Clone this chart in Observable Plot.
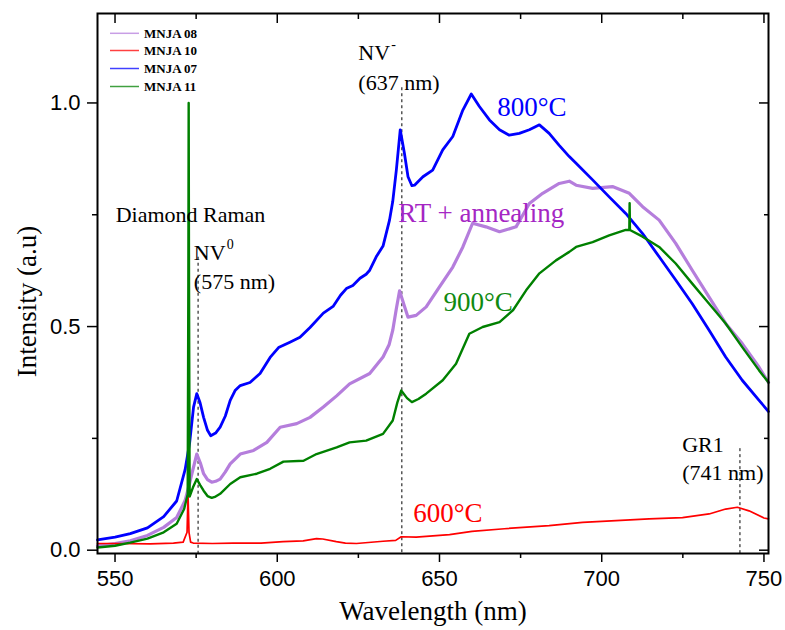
<!DOCTYPE html>
<html><head><meta charset="utf-8">
<script src="https://cdn.jsdelivr.net/npm/d3@7"></script>
<script src="https://cdn.jsdelivr.net/npm/@observablehq/plot@0.6"></script>
<style>
body{margin:0;background:#fff;}
#chart{width:785px;height:630px;}
</style></head><body><div id="chart"></div>
<script>
// ---- data: [wavelength nm, intensity a.u.] ----
const seriesNames = ["MNJA 08", "MNJA 10", "MNJA 07", "MNJA 11"];
const seriesColors = ["#b57edc", "#ff0000", "#0000ff", "#008000"];

const mnja08 = [[544.6,0.01],[550,0.015],[554.7,0.021],[560,0.033],[565,0.051],[569,0.073],[571.6,0.111],[573,0.15],[573.7,0.171],[575.2,0.215],[576.3,0.195],[577.3,0.171],[578.5,0.158],[579.8,0.152],[581,0.154],[582.4,0.159],[584,0.175],[585.5,0.193],[588.6,0.215],[592.7,0.223],[596.8,0.241],[600.9,0.275],[606,0.283],[610.1,0.297],[614.2,0.32],[618.3,0.345],[622.3,0.372],[628.5,0.395],[632.6,0.432],[634.5,0.46],[635.6,0.492],[636.7,0.54],[637.7,0.58],[639,0.55],[640.3,0.521],[642.8,0.525],[645.9,0.544],[650,0.589],[654.1,0.633],[657.2,0.678],[660.2,0.731],[664.3,0.723],[668.5,0.712],[673.6,0.723],[677.7,0.775],[681.8,0.798],[686.9,0.82],[690,0.825],[692.1,0.816],[697.2,0.809],[703.3,0.813],[708.5,0.798],[712.6,0.768],[717.7,0.738],[722.8,0.686],[727.9,0.626],[733.1,0.566],[738.2,0.507],[743.3,0.462],[748.5,0.409],[751.4,0.375]];

const mnja10 = [[544.6,0.015],[550,0.015],[560.8,0.014],[568,0.016],[571,0.018],[572.2,0.04],[572.5,0.125],[572.8,0.04],[573.3,0.018],[574.1,0.016],[580,0.015],[586.4,0.016],[595,0.016],[601.8,0.019],[608,0.021],[612.1,0.026],[614,0.025],[618.2,0.019],[621,0.016],[624.4,0.015],[632.6,0.02],[636.5,0.022],[638.2,0.03],[642.8,0.029],[653.1,0.035],[660,0.042],[670,0.048],[683.8,0.055],[694.1,0.062],[704.4,0.066],[714.6,0.07],[724.9,0.073],[733.1,0.081],[738.2,0.092],[741.8,0.096],[745.4,0.088],[750,0.072],[751.4,0.07]];

const mnja07 = [[544.6,0.023],[550,0.029],[554.7,0.037],[560,0.05],[565,0.075],[569,0.11],[571.6,0.18],[573,0.24],[574.2,0.32],[575.2,0.35],[576.2,0.33],[577.3,0.297],[578.5,0.268],[579.5,0.256],[581,0.262],[582.4,0.275],[584,0.3],[585.5,0.335],[587,0.357],[588.6,0.368],[591.6,0.375],[594.7,0.395],[597.8,0.431],[600.4,0.453],[603.9,0.465],[607,0.476],[610.1,0.498],[614.2,0.53],[617.2,0.545],[619.5,0.57],[621.3,0.585],[623.3,0.592],[625.5,0.608],[627.4,0.617],[628.5,0.626],[630.5,0.656],[632.6,0.68],[634.6,0.738],[635.6,0.78],[636.7,0.85],[637.9,0.94],[639.2,0.887],[640.3,0.835],[641.5,0.815],[642.3,0.816],[644.9,0.835],[647.9,0.85],[651,0.895],[654.1,0.925],[657.2,0.984],[659.8,1.02],[662.3,0.992],[665.4,0.962],[668.5,0.94],[671.5,0.928],[674.6,0.932],[677.7,0.94],[680.8,0.951],[683.8,0.932],[686.9,0.905],[690,0.88],[692.1,0.865],[697.2,0.828],[702.3,0.79],[707.4,0.753],[712.6,0.708],[717.7,0.656],[722.8,0.604],[727.9,0.551],[733.1,0.492],[738.2,0.432],[743.3,0.38],[748.5,0.335],[751.4,0.31]];

const mnja11 = [[544.6,0.006],[550,0.01],[554.7,0.017],[560,0.026],[565,0.04],[569,0.059],[571.3,0.092],[572.4,0.125],[572.6,0.6],[572.7,1.0],[572.8,0.6],[573.0,0.12],[574,0.14],[575.2,0.159],[576.3,0.145],[577.3,0.133],[578.5,0.121],[579.8,0.117],[581,0.12],[582.4,0.126],[585.5,0.148],[588.6,0.163],[593.7,0.171],[597.8,0.182],[601.9,0.198],[608.1,0.2],[612.1,0.215],[618.3,0.23],[622.3,0.241],[627.4,0.245],[632.6,0.26],[635.6,0.29],[637,0.33],[638.2,0.357],[640,0.34],[641.5,0.331],[643.5,0.338],[645.9,0.35],[651,0.38],[655.1,0.417],[659.2,0.484],[663.3,0.499],[668.5,0.51],[672.6,0.536],[676.7,0.581],[680.8,0.619],[685.9,0.648],[690,0.667],[692.1,0.678],[697.2,0.689],[702.3,0.704],[707.4,0.716],[708.5,0.716],[708.6,0.776],[708.7,0.716],[712.6,0.701],[717.7,0.678],[722.8,0.641],[727.9,0.596],[733.1,0.551],[738.2,0.507],[743.3,0.454],[748.5,0.402],[751.4,0.375]];

const xTicks = [550, 600, 650, 700, 750];
const xMinorTicks = [575, 625, 675, 725];
const yTicks = [0, 0.5, 1.0];
const yMinorTicks = [0.25, 0.75];

// peak markers (dashed lines)
const peakX = [575.6, 638.4, 742.6];
const peakTop = [0.655, 1.034, 0.227];

// annotations
const annoText = ["NV", "(637 nm)", "Diamond Raman", "NV", "(575 nm)", "GR1", "(741 nm)"];
const annoX = [625.0, 625.0, 550.2, 574.3, 574.3, 724.8, 724.8];
const annoY = [1.111, 1.044, 0.749, 0.664, 0.599, 0.235, 0.172];
const supText = ["-", "0"];
const supX = [635.1, 584.4];
const supY = [1.13, 0.683];
const tempText = ["800°C", "RT + annealing", "900°C", "600°C"];
const tempX = [667.8, 637.3, 651.2, 641.9];
const tempY = [0.990, 0.753, 0.554, 0.083];
const tempColors = ["#0000ff", "#a526c4", "#108a10", "#ff0000"];

const serif = "Liberation Serif, Times New Roman, serif";
const sans = "Liberation Sans, Arial, sans-serif";

const xDomain = [544.6, 751.4];
const yDomain = [-0.0074, 1.2];
const allSeries = [mnja08, mnja10, mnja07, mnja11];
const widths = [3.2, 1.7, 2.8, 2.4];

const lineMarks = allSeries.map((s, i) => Plot.line(s, {
  x: d => d[0], y: d => d[1], stroke: seriesColors[i], strokeWidth: widths[i], curve: "linear"
}));

const tempData = tempText.map((t, i) => ({t, x: tempX[i], y: tempY[i], c: tempColors[i]}));
const annoData = annoText.map((t, i) => ({t, x: annoX[i], y: annoY[i]}));
const supData = supText.map((t, i) => ({t, x: supX[i], y: supY[i]}));
const peakData = peakX.map((x, i) => ({x, top: peakTop[i]}));

const plot = Plot.plot({
  width: 785,
  height: 630,
  marginLeft: 97,
  marginRight: 17,
  marginTop: 13,
  marginBottom: 77,
  style: {fontFamily: sans, background: "white", color: "black"},
  x: {domain: xDomain},
  y: {domain: yDomain},
  marks: [
    Plot.ruleX(peakData, {x: "x", y1: "top", y2: yDomain[0], stroke: "black", strokeWidth: 1, strokeDasharray: "3,3"}),
    ...lineMarks,
    Plot.text(annoData, {x: "x", y: "y", text: "t", textAnchor: "start", lineAnchor: "middle", fontFamily: serif, fontSize: 22, fill: "black"}),
    Plot.text(supData, {x: "x", y: "y", text: "t", textAnchor: "start", lineAnchor: "middle", fontFamily: serif, fontSize: 14, fill: "black"}),
    Plot.text(tempData, {x: "x", y: "y", text: "t", fill: "c", textAnchor: "start", lineAnchor: "middle", fontFamily: serif, fontSize: 27}),
    // axes
    Plot.axisX({anchor: "bottom", ticks: xTicks, tickSize: 9, tickPadding: 8, tickFormat: d => String(d), fontSize: 22, label: null, strokeWidth: 1.5}),
    Plot.axisX({anchor: "bottom", ticks: xMinorTicks, tickSize: 5, tickFormat: () => "", label: null, strokeWidth: 1.5}),
    Plot.axisX({anchor: "top", ticks: xTicks, tickSize: 9, dy: 9, tickFormat: () => "", label: null, strokeWidth: 1.5}),
    Plot.axisX({anchor: "top", ticks: xMinorTicks, tickSize: 5, dy: 5, tickFormat: () => "", label: null, strokeWidth: 1.5}),
    Plot.axisY({anchor: "left", ticks: yTicks, tickSize: 10, tickPadding: 7, tickFormat: d3.format(".1f"), fontSize: 22, label: null, strokeWidth: 1.5}),
    Plot.axisY({anchor: "left", ticks: yMinorTicks, tickSize: 5, tickFormat: () => "", label: null, strokeWidth: 1.5}),
    Plot.axisY({anchor: "right", ticks: yTicks, tickSize: 10, dx: -10, tickFormat: () => "", label: null, strokeWidth: 1.5}),
    Plot.axisY({anchor: "right", ticks: yMinorTicks, tickSize: 5, dx: -5, tickFormat: () => "", label: null, strokeWidth: 1.5}),
    Plot.text(["Wavelength (nm)"], {frameAnchor: "bottom", dy: 58, text: d => d, textAnchor: "middle", fontFamily: serif, fontSize: 27, lineAnchor: "middle", fill: "black"}),
    Plot.text(["Intensity (a.u)"], {frameAnchor: "left", dx: -70, dy: 18, rotate: -90, text: d => d, textAnchor: "middle", fontFamily: serif, fontSize: 27, lineAnchor: "middle", fill: "black"}),
    Plot.frame({stroke: "black", strokeWidth: 2})
  ]
});

// legend (top-left inside the frame)
const svg = d3.select(plot);
const lg = svg.append("g").attr("text-anchor", "start");
const rowY = [33.3, 50.5, 68.5, 86.5];
seriesNames.forEach((name, i) => {
  lg.append("line").attr("x1", 110).attr("x2", 139).attr("y1", rowY[i]).attr("y2", rowY[i])
    .attr("stroke", seriesColors[i]).attr("stroke-width", 1.5).attr("stroke-opacity", 0.75);
  lg.append("text").attr("x", 144).attr("y", rowY[i]).attr("dy", "0.35em")
    .attr("text-anchor", "start")
    .attr("font-family", serif).attr("font-weight", "bold").attr("font-size", 13)
    .attr("fill", "black").text(name);
});

document.getElementById("chart").appendChild(plot);
</script>
</body></html>
